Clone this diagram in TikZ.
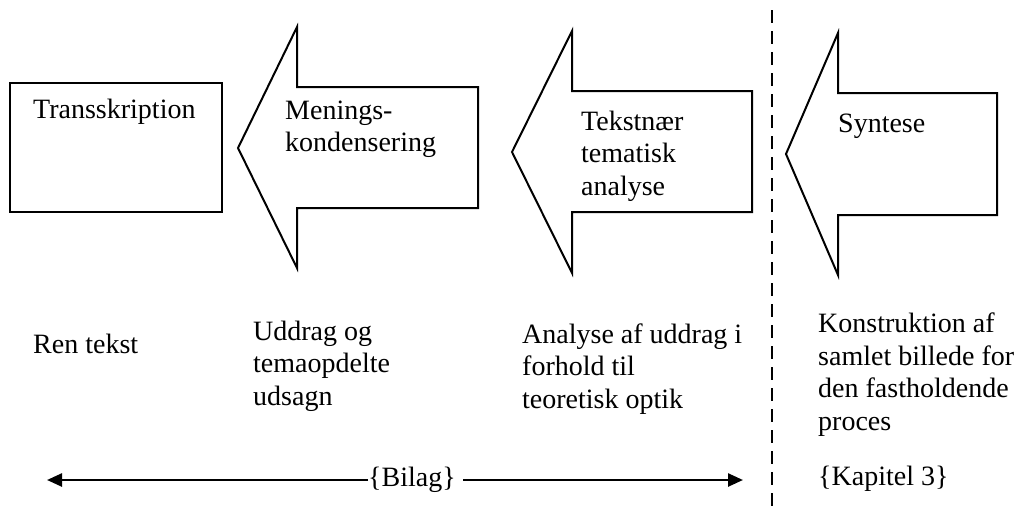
\documentclass[tikz,border=0pt]{standalone}
\usepackage{fontspec}
\setmainfont{Liberation Serif}
\usetikzlibrary{arrows.meta}

\tikzset{
  shape outline/.style={draw=black, line width=2pt, line join=miter, fill=white},
  label text/.style={inner sep=0pt, anchor=base west, align=left,
                     font=\fontsize{28}{32.5}\selectfont},
  span line/.style={line width=2.5pt, -{Triangle[length=15pt,width=13pt]}},
  divider/.style={line width=2pt, dash pattern=on 13pt off 8pt}
}

\begin{document}
\begin{tikzpicture}[x=1pt, y=-1pt]
  \useasboundingbox (0,0) rectangle (1018,507);

  % vertical divider between the appendix part and chapter 3
  \draw[divider] (772,10) -- (772,507);

  % box and the three leftward block arrows
  \draw[shape outline] (10,83) rectangle (222,212);
  \draw[shape outline] (238,148) -- (297,27) -- (297,87) -- (478,87)
        -- (478,208) -- (297,208) -- (297,268) -- cycle;
  \draw[shape outline] (512,152) -- (572,31) -- (572,91) -- (752,91)
        -- (752,212) -- (572,212) -- (572,273) -- cycle;
  \draw[shape outline] (786,154) -- (838,33) -- (838,93) -- (997,93)
        -- (997,215) -- (838,215) -- (838,275) -- cycle;

  % step titles (multi-line nodes are placed by the baseline of their last line)
  \node[label text] (trans) at (33,118) {Transskription};
  \node[label text] (men)   at (285,151.5) {Menings-\\kondensering};
  \node[label text] (tek)   at (581,195) {Tekstnær\\tematisk\\analyse};
  \node[label text] (syn)   at (838,132) {Syntese};

  % results of each step
  \node[label text] (ren) at (33,353)  {Ren tekst};
  \node[label text] (udd) at (253,405) {Uddrag og\\temaopdelte\\udsagn};
  \node[label text] (ana) at (522,408) {Analyse af uddrag i\\forhold til\\teoretisk optik};
  \node[label text] (kon) at (818,430) {Konstruktion af\\samlet billede for\\den fastholdende\\proces};
  \node[label text] (kap) at (818,485) {\{Kapitel 3\}};

  % appendix span
  \node[label text] (bilag) at (368,486) {\{Bilag\}};
  \coordinate (spanL) at (47,480);
  \coordinate (spanR) at (743,480);
  \coordinate (bilagR) at (463,480);
  \draw[span line] (bilag.west |- spanL) -- (spanL);
  \draw[span line] (bilagR) -- (spanR);
\end{tikzpicture}
\end{document}
